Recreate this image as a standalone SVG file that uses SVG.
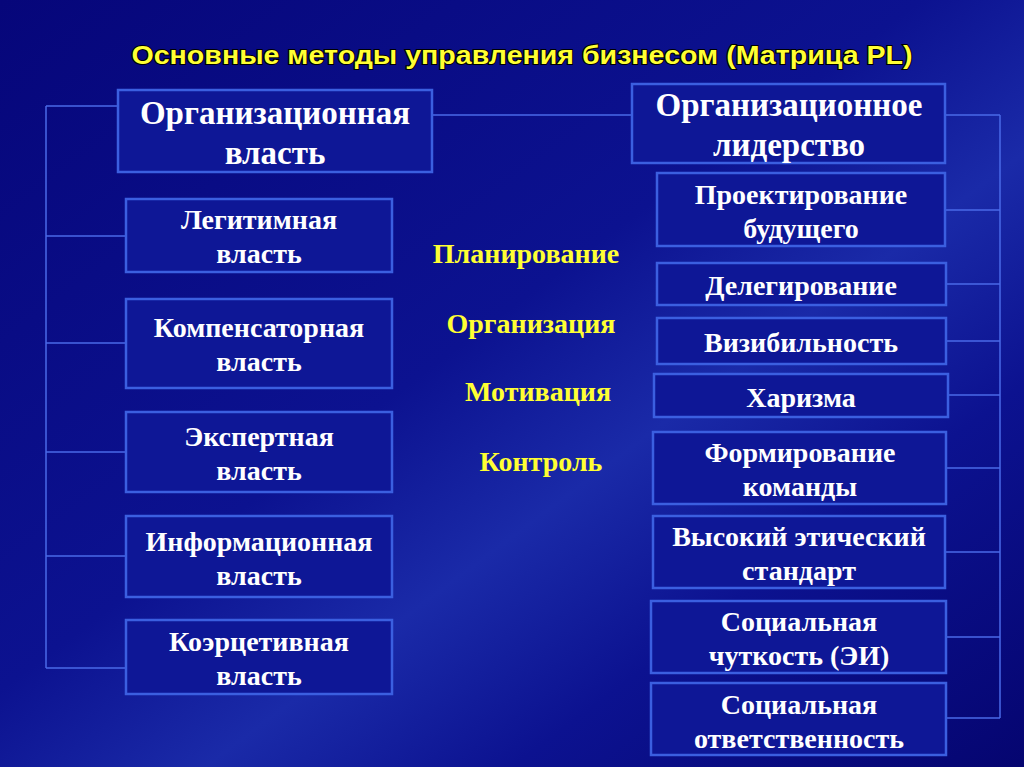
<svg xmlns="http://www.w3.org/2000/svg" width="1024" height="767" viewBox="0 0 1024 767">
<defs>
<linearGradient id="bg" x1="0" y1="0" x2="1" y2="1">
<stop offset="0" stop-color="#06067a"/><stop offset="0.45" stop-color="#0c1290"/><stop offset="0.6" stop-color="#1a2aa8"/><stop offset="0.75" stop-color="#0c1290"/><stop offset="1" stop-color="#050570"/>
</linearGradient>
<style>
.b{fill:#0e1796;stroke:#3b5fe0;stroke-width:2.5}
.t{font-family:"Liberation Serif",serif;font-weight:700;fill:#fff;text-anchor:middle;font-size:28px}
.L{font-size:33px}
.y{font-family:"Liberation Serif",serif;font-weight:700;fill:#ffff33;font-size:28px;text-anchor:middle}
.c{stroke:#4a6ae8;stroke-width:1.5;fill:none}
.h{font-family:"Liberation Sans",Arial,sans-serif;font-weight:700;font-size:26px;fill:#ffff33;stroke:#000;stroke-width:2;paint-order:stroke;text-anchor:middle}
</style>
</defs>
<rect width="1024" height="767" fill="url(#bg)"/>
<text class="h" x="522" y="64" textLength="781" lengthAdjust="spacingAndGlyphs">Основные методы управления бизнесом (Матрица PL)</text>
<g id="connectors" class="c">
<path d="M46 106V668M46 106H118M46 236H126M46 343H126M46 452H126M46 556H126M46 668H126"/>
<path d="M432 115H632"/>
<path d="M1000 115V718M945 115H1000M945 210H1000M946 284H1000M946 341H1000M948 395H1000M946 468H1000M945 552H1000M946 637H1000M946 718H1000"/>
</g>
<g id="n1"><rect class="b" x="118" y="90" width="314" height="82"/><text class="t L" x="275" y="124">Организационная</text><text class="t L" x="275" y="164">власть</text></g>
<g id="n2"><rect class="b" x="126" y="199" width="266" height="73"/><text class="t" x="259" y="229">Легитимная</text><text class="t" x="259" y="263">власть</text></g>
<g id="n3"><rect class="b" x="126" y="299" width="266" height="89"/><text class="t" x="259" y="337">Компенсаторная</text><text class="t" x="259" y="371">власть</text></g>
<g id="n4"><rect class="b" x="126" y="412" width="266" height="80"/><text class="t" x="259" y="446">Экспертная</text><text class="t" x="259" y="480">власть</text></g>
<g id="n5"><rect class="b" x="126" y="516" width="266" height="81"/><text class="t" x="259" y="551">Информационная</text><text class="t" x="259" y="585">власть</text></g>
<g id="n6"><rect class="b" x="126" y="620" width="266" height="74"/><text class="t" x="259" y="651">Коэрцетивная</text><text class="t" x="259" y="685">власть</text></g>
<g id="mid">
<text class="y" x="526" y="263">Планирование</text>
<text class="y" x="531" y="333">Организация</text>
<text class="y" x="538" y="401">Мотивация</text>
<text class="y" x="541" y="471">Контроль</text>
</g>
<g id="r0"><rect class="b" x="632" y="84" width="313" height="79"/><text class="t L" x="789" y="116">Организационное</text><text class="t L" x="789" y="156">лидерство</text></g>
<g id="r1"><rect class="b" x="657" y="173" width="288" height="73"/><text class="t" x="801" y="204">Проектирование</text><text class="t" x="801" y="238">будущего</text></g>
<g id="r2"><rect class="b" x="657" y="263" width="289" height="42"/><text class="t" x="801" y="295">Делегирование</text></g>
<g id="r3"><rect class="b" x="657" y="318" width="289" height="46"/><text class="t" x="801" y="352">Визибильность</text></g>
<g id="r4"><rect class="b" x="654" y="374" width="294" height="43"/><text class="t" x="801" y="407">Харизма</text></g>
<g id="r5"><rect class="b" x="653" y="432" width="293" height="72"/><text class="t" x="800" y="462">Формирование</text><text class="t" x="800" y="496">команды</text></g>
<g id="r6"><rect class="b" x="653" y="516" width="292" height="72"/><text class="t" x="799" y="546">Высокий этический</text><text class="t" x="799" y="580">стандарт</text></g>
<g id="r7"><rect class="b" x="651" y="601" width="295" height="72"/><text class="t" x="799" y="631">Социальная</text><text class="t" x="799" y="665">чуткость (ЭИ)</text></g>
<g id="r8"><rect class="b" x="651" y="683" width="295" height="72"/><text class="t" x="799" y="714">Социальная</text><text class="t" x="799" y="748">ответственность</text></g>
</svg>
